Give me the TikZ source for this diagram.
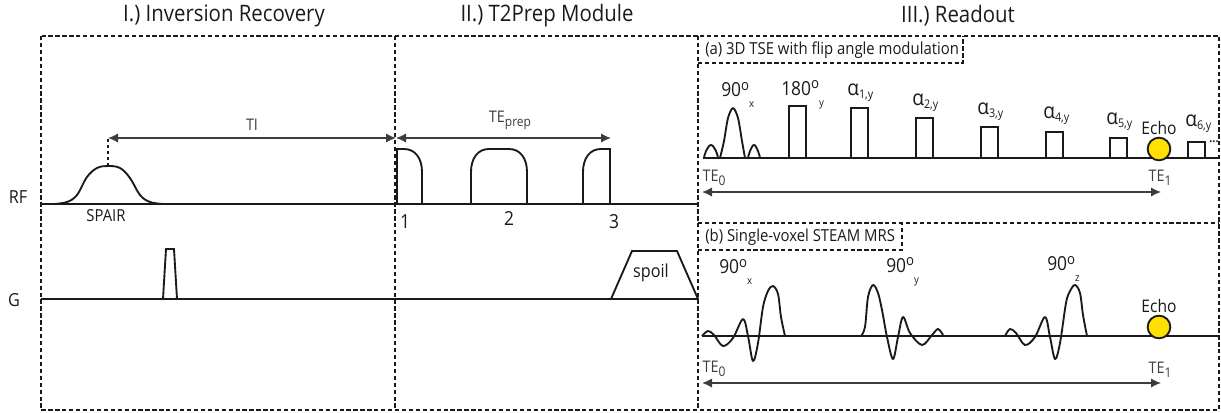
\documentclass[tikz,border=0pt]{standalone}
\usepackage{fontspec}
\setmainfont{Open Sans}[FakeStretch=0.9]
\usetikzlibrary{arrows.meta}
\definecolor{ink}{HTML}{1A1A1A}
\definecolor{dim}{HTML}{3C3C3C}
\definecolor{echoc}{HTML}{FFE000}
\newcommand{\aflip}[1]{{\fontsize{16}{16}\selectfont α}\raisebox{-.35ex}{\fontsize{9}{9}\selectfont #1}}
\newcommand{\nflip}[2]{#1\raisebox{.6ex}{\fontsize{11}{11}\selectfont o}\raisebox{-1.1ex}{\fontsize{8}{8}\selectfont #2}}
\newcommand{\tesub}[2]{#1\raisebox{-.45ex}{\fontsize{10}{10}\selectfont #2}}
\tikzset{
  frameline/.style={draw=ink,line width=1.15pt,dash pattern=on 3.2pt off 2pt},
  seq/.style={draw=ink,line width=1.4pt,line join=round},
  pulse/.style={draw=ink,line width=1.4pt,line join=miter},
  span/.style={draw=dim,line width=1.2pt,{Latex[length=7.5pt,width=7pt]}-{Latex[length=7.5pt,width=7pt]}},
  heading/.style={font=\fontsize{17}{19}\selectfont,text=ink,inner sep=0pt},
  lab/.style={font=\fontsize{12.4}{14}\selectfont,text=ink,inner sep=0pt},
  axis/.style={font=\fontsize{13.5}{15}\selectfont,text=ink,inner sep=0pt},
  timing/.style={font=\fontsize{12}{14}\selectfont,text=dim,inner sep=0pt},
  flip/.style={font=\fontsize{14.5}{16}\selectfont,text=ink,inner sep=0pt},
  echodot/.style={circle,draw=ink,line width=1.4pt,fill=echoc,minimum size=17pt,inner sep=0pt},
}
\begin{document}
\begin{tikzpicture}[x=0.75pt,y=-0.75pt]
\useasboundingbox (0,0) rectangle (1221,412);
% titles
\node[heading] (t1) at (224,16) {I.) Inversion Recovery};
\node[heading] (t2) at (547,16) {II.) T2Prep Module};
\node[heading] (t3) at (958,16) {III.) Readout};
% frames
\draw[frameline] (41,36) rectangle (1219,410);
\draw[frameline] (395,36) -- (395,410);
\draw[frameline] (698,36) -- (698,410);
\draw[frameline] (698,223) -- (1219,223);
\draw[frameline] (698,63) -- (963,63) -- (963,36);
\draw[frameline] (698,250) -- (902,250) -- (902,223);
% axis labels
\node[axis] (rf) at (18,197) {RF};
\node[axis] (g) at (14,300) {G};
% baselines
\coordinate (rfL) at (41,204); \coordinate (rfR) at (698,204);
\coordinate (gL) at (41,299); \coordinate (gR) at (698,299);
\draw[seq] (rfL) -- (rfR);
\draw[seq] (gL) -- (gR);
% SPAIR
\draw[seq] plot[smooth,tension=0.6] coordinates {(54,204)(67,202)(77,195)(87,177)(97,168)(108,166)(120,168)(130,178)(140,195)(150,202)(163,204)};
\node[lab] (spair) at (106,216) {SPAIR};
\coordinate (tiA) at (108,138); \coordinate (tiP) at (108,166); \coordinate (tiB) at (396,138);
\draw[draw=ink,line width=1pt,dash pattern=on 2.5pt off 2pt] (tiP) -- (tiA);
\draw[span] (tiA) -- (tiB);
\node[timing] (ti) at (252,125) {TI};
% gradient blip
\draw[pulse] (163,299) -- (166,249) -- (174,249) -- (177,299);
% T2prep
\draw[pulse] (397,204) -- (397,149) -- (404,149) .. controls (415,149) and (422,158) .. (422,172) -- (422,204);
\draw[pulse] (471,204) -- (471,172) .. controls (471,158) and (478,149) .. (489,149) -- (509,149) .. controls (520,149) and (527,158) .. (527,172) -- (527,204);
\draw[pulse] (583,204) -- (583,172) .. controls (583,158) and (590,149) .. (601,149) -- (610,149) -- (610,204);
\coordinate (teA) at (396,138); \coordinate (teB) at (611,138);
\draw[span] (teA) -- (teB);
\node[timing] (tep) at (510,120) {\tesub{TE}{prep}};
\node[axis,font=\fontsize{14.5}{16}\selectfont] (n1) at (405,222) {1};
\node[axis,font=\fontsize{14.5}{16}\selectfont] (n2) at (509,218) {2};
\node[axis,font=\fontsize{14.5}{16}\selectfont] (n3) at (614,222) {3};
\draw[pulse] (611,299) -- (632,251) -- (677,251) -- (698,299);
\node[lab,font=\fontsize{13.5}{15}\selectfont] (spoil) at (651,273) {spoil};
% (a)
\node[lab,anchor=west] (ahead) at (705,50) {(a) 3D TSE with flip angle modulation};
\coordinate (aL) at (703,158); \coordinate (aR) at (1219,158);
\draw[seq] (aL) -- (aR);
\draw[seq] plot[smooth,tension=0.7] coordinates {(704,158)(706,151)(711,145)(716,151)(718,158)};
\draw[seq] plot[smooth,tension=0.5] coordinates {(720,158)(724,141)(728,118)(733,108)(738,118)(742,141)(745,158)};
\draw[seq] plot[smooth,tension=0.7] coordinates {(748,158)(750,151)(754,145)(758,151)(760,158)};
\draw[pulse] (789,158) -- (789,106) -- (806,106) -- (806,158);
\draw[pulse] (851,158) -- (851,108) -- (868,108) -- (868,158);
\draw[pulse] (916,158) -- (916,118) -- (933,118) -- (933,158);
\draw[pulse] (981,158) -- (981,127) -- (998,127) -- (998,158);
\draw[pulse] (1046,158) -- (1046,132) -- (1063,132) -- (1063,158);
\draw[pulse] (1110,158) -- (1110,138) -- (1127,138) -- (1127,158);
\draw[pulse] (1188,158) -- (1188,142) -- (1205,142) -- (1205,158);
\node[flip,anchor=west] (a90) at (721,95) {\nflip{90}{x}};
\node[flip,anchor=west] (a180) at (781,95) {\nflip{180}{y}};
\node[lab,anchor=west] (a1) at (847,93) {\aflip{1,y}};
\node[lab,anchor=west] (a2) at (912,103) {\aflip{2,y}};
\node[lab,anchor=west] (a3) at (977,112) {\aflip{3,y}};
\node[lab,anchor=west] (a4) at (1043,116) {\aflip{4,y}};
\node[lab,anchor=west] (a5) at (1106,122) {\aflip{5,y}};
\node[lab,anchor=west] (a6) at (1185,124) {\aflip{6,y}};
\node[lab,font=\fontsize{9}{9}\selectfont\bfseries] (dots) at (1214,142) {...};
\node[echodot] (eA) at (1159,149) {};
\node[lab,font=\fontsize{13}{15}\selectfont] (eAl) at (1159,128) {Echo};
\coordinate (aA) at (702,192); \coordinate (aB) at (1161,192);
\draw[span] (aA) -- (aB);
\node[timing] (te0a) at (714,178) {\tesub{TE}{0}};
\node[timing] (te1a) at (1160,178) {\tesub{TE}{1}};
% (b)
\node[lab,anchor=west] (bhead) at (705,237) {(b) Single-voxel STEAM MRS};
\coordinate (bL) at (702,336); \coordinate (bR) at (1219,336);
\draw[seq] (bL) -- (bR);
\draw[seq] plot[smooth,tension=0.55] coordinates {(702,336)(708,331)(714,335)(723,346)(733,338)(743,319)(748,336)(753,361)(758,343)(763,307)(768,291)(773,286)(778,294)(781,317)(785,336)};
\draw[seq] plot[smooth,tension=0.55] coordinates {(861,336)(865,327)(868,297)(873,285)(878,293)(882,310)(887,337)(893,359)(898,337)(903,317)(910,333)(922,345)(932,335)(938,329)(943,335)};
\draw[seq] plot[smooth,tension=0.55] coordinates {(1005,336)(1010,329)(1016,333)(1025,345)(1035,337)(1045,317)(1050,337)(1055,359)(1060,343)(1066,303)(1070,291)(1075,285)(1080,293)(1083,315)(1087,336)};
\node[flip,anchor=west] (b90x) at (719,272) {\nflip{90}{x}};
\node[flip,anchor=west] (b90y) at (886,272) {\nflip{90}{y}};
\node[flip,anchor=west] (b90z) at (1047,269) {\nflip{90}{z}};
\node[echodot] (eB) at (1159,327) {};
\node[lab,font=\fontsize{13}{15}\selectfont] (eBl) at (1159,306) {Echo};
\coordinate (bA) at (702,383); \coordinate (bB) at (1161,383);
\draw[span] (bA) -- (bB);
\node[timing] (te0b) at (714,369) {\tesub{TE}{0}};
\node[timing] (te1b) at (1160,370) {\tesub{TE}{1}};
\end{tikzpicture}
\end{document}
